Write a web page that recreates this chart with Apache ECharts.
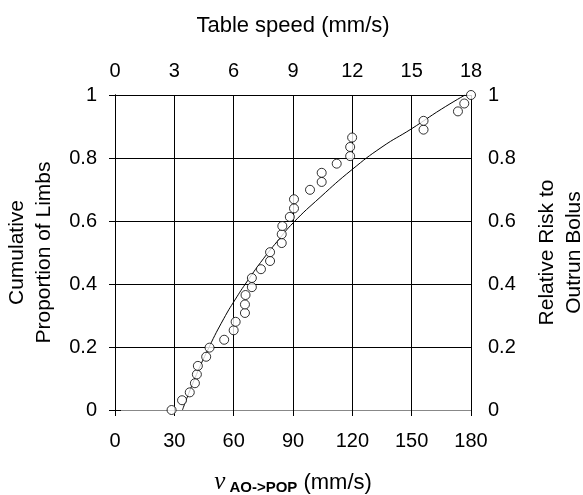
<!DOCTYPE html>
<html><head><meta charset="utf-8">
<script src="https://cdn.jsdelivr.net/npm/echarts@6/dist/echarts.min.js"></script>
<style>html,body{margin:0;padding:0;background:#fff}#c{width:583px;height:495px}</style>
</head><body><div id="c"></div>
<script>
// Observed limbs: velocity (mm/s) and cumulative proportion
const pointX = [28.6,33.9,37.8,40.4,41.4,41.9,46.1,47.8,55.2,60.0,61.0,65.7,65.7,66.0,69.2,69.2,73.8,78.4,78.4,84.3,
                84.3,84.6,88.4,90.5,90.5,98.6,104.5,104.5,112.1,118.9,118.9,119.9,156.0,156.0,173.4,176.6,180.0];
const pointY = [0,0.031,0.056,0.085,0.113,0.140,0.169,0.198,0.223,0.253,0.280,0.308,0.335,0.365,0.390,0.419,0.447,0.473,0.501,0.530,
                0.558,0.584,0.613,0.640,0.669,0.699,0.724,0.753,0.782,0.806,0.835,0.865,0.890,0.918,0.948,0.973,1.0];
// Fitted trend curve
const curveX = [34.1,40,47.6,55,60.6,67,75,82,90.2,103.7,119.8,135,150,165,177];
const curveY = [0,0.095,0.2,0.29,0.349,0.41,0.48,0.535,0.595,0.675,0.763,0.835,0.893,0.955,1.0];
const bottomTicks = [0,30,60,90,120,150,180];
const topTicks = [0,3,6,9,12,15,18];
const yTicks = [0,0.2,0.4,0.6,0.8,1];

const chart = echarts.init(document.getElementById('c'), null, {renderer:'canvas'});
const font = 'Liberation Sans, Arial, sans-serif';
const lab = {color:'#000', fontSize:20, fontFamily:font};
chart.setOption({
  animation:false,
  backgroundColor:'#fff',
  grid:{left:115, right:112, top:95, bottom:85, containLabel:false, outerBoundsMode:'none'},
  xAxis:[{
    type:'value', min:bottomTicks[0], max:bottomTicks[bottomTicks.length-1], interval:30, position:'bottom',
    axisLine:{show:true, onZero:false, lineStyle:{color:'#000', width:1}},
    axisTick:{show:true, length:6, lineStyle:{color:'#000'}},
    axisLabel:Object.assign({margin:21}, lab),
    splitLine:{show:true, lineStyle:{color:'#000', width:1}},
    name:'{v|v}{s| AO->POP}{n| (mm/s)}', nameLocation:'middle', nameGap:60,
    nameTextStyle:{rich:{
      v:{fontFamily:'Liberation Serif, Times New Roman, serif', fontStyle:'italic', fontSize:25, color:'#000'},
      s:{fontFamily:font, fontWeight:'bold', fontSize:15, color:'#000', padding:[10,0,0,0]},
      n:{fontFamily:font, fontSize:22, color:'#000'}
    }}
  },{
    type:'value', min:topTicks[0], max:topTicks[topTicks.length-1], interval:3, position:'top',
    axisLine:{show:true, lineStyle:{color:'#888', width:1}},
    axisTick:{show:false},
    axisLabel:Object.assign({margin:14}, lab),
    splitLine:{show:false},
    name:'Table speed (mm/s)', nameLocation:'middle', nameGap:58,
    nameTextStyle:{color:'#000', fontSize:22, fontFamily:font}
  }],
  yAxis:[{
    type:'value', min:0, max:1, interval:0.2, position:'left',
    axisLine:{show:true, lineStyle:{color:'#000'}},
    axisTick:{show:true, length:6, lineStyle:{color:'#000'}},
    axisLabel:Object.assign({margin:18, formatter:v=>String(+v.toFixed(1))}, lab),
    splitLine:{show:true, lineStyle:{color:'#000', width:1}},
    name:'Cumulative\nProportion of Limbs', nameLocation:'middle', nameGap:57, nameRotate:90,
    nameTextStyle:{color:'#000', fontSize:21, fontFamily:font, lineHeight:27}
  },{
    type:'value', min:0, max:1, interval:0.2, position:'right',
    axisLine:{show:true, lineStyle:{color:'#000'}},
    axisTick:{show:true, length:6, lineStyle:{color:'#000'}},
    axisLabel:Object.assign({margin:17, formatter:v=>String(+v.toFixed(1))}, lab),
    splitLine:{show:false},
    name:'Relative Risk to\nOutrun Bolus', nameLocation:'middle', nameGap:63, nameRotate:90,
    nameTextStyle:{color:'#000', fontSize:21, fontFamily:font, lineHeight:27}
  }],
  series:[{
    type:'line', xAxisIndex:0, yAxisIndex:0, smooth:true, symbol:'none',
    lineStyle:{color:'#000', width:1},
    data:curveX.map((x,i)=>[x,curveY[i]]), z:3
  },{
    type:'scatter', xAxisIndex:0, yAxisIndex:0, symbol:'circle', symbolSize:9,
    itemStyle:{color:'#fff', borderColor:'#000', borderWidth:1},
    data:pointX.map((x,i)=>[x,pointY[i]]), z:4
  }]
});
</script></body></html>
